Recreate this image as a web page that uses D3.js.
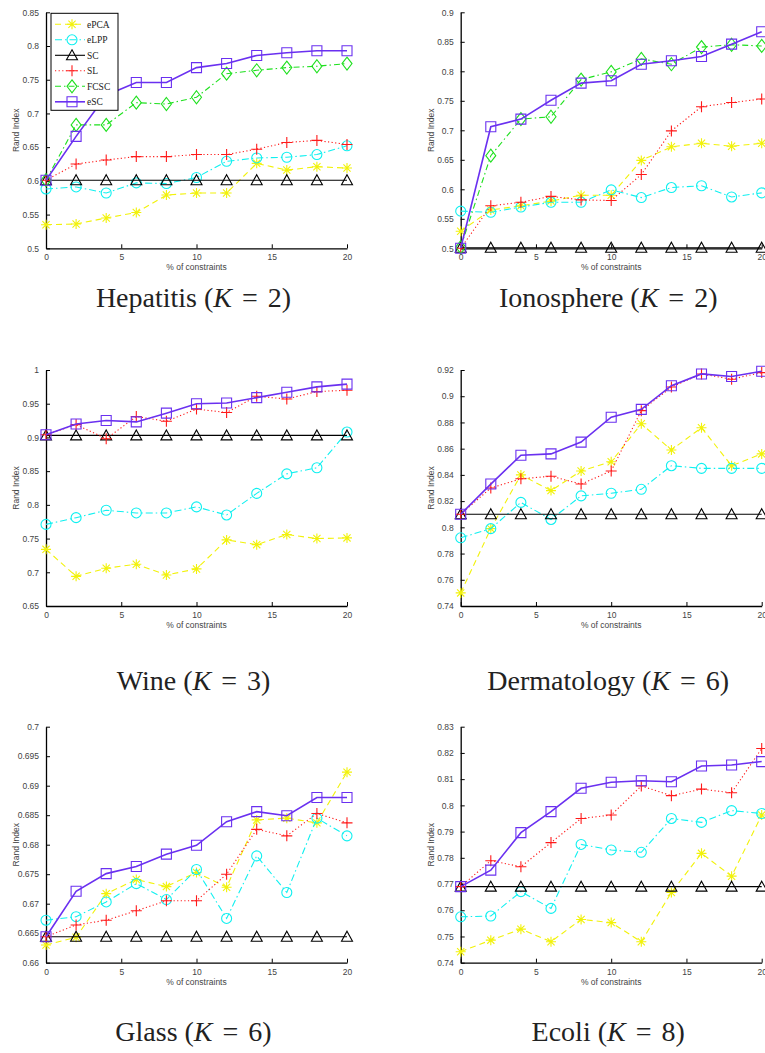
<!DOCTYPE html>
<html>
<head>
<meta charset="utf-8">
<script src="https://cdn.jsdelivr.net/npm/d3@7"></script>
<style>
  html, body { margin:0; padding:0; background:#fff; }
  svg { display:block; }
</style>
</head>
<body>
<div id="chart"></div>
<script>
/* Rand Index vs % of constraints, six datasets (3 x 2 small multiples).
   Values. */

// shared x values (% of constraints)
var pct = [0, 2, 4, 6, 8, 10, 12, 14, 16, 18, 20];
var xTicks = [0, 5, 10, 15, 20];

// method names, in legend order
var methods = ["ePCA", "eLPP", "SC", "SL", "FCSC", "eSC"];

// Hepatitis (K = 2)
var hepatitis_ePCA = [0.535, 0.536, 0.545, 0.553, 0.579, 0.582, 0.582, 0.626, 0.616, 0.621, 0.619];
var hepatitis_eLPP = [0.588, 0.591, 0.582, 0.597, 0.596, 0.605, 0.629, 0.634, 0.635, 0.639, 0.652];
var hepatitis_SC   = [0.601, 0.601, 0.601, 0.601, 0.601, 0.601, 0.601, 0.601, 0.601, 0.601, 0.601];
var hepatitis_SL   = [0.601, 0.625, 0.631, 0.636, 0.636, 0.639, 0.639, 0.647, 0.657, 0.660, 0.654];
var hepatitis_FCSC = [0.601, 0.683, 0.683, 0.716, 0.714, 0.724, 0.759, 0.764, 0.768, 0.770, 0.774];
var hepatitis_eSC  = [0.601, 0.666, 0.727, 0.746, 0.746, 0.768, 0.774, 0.786, 0.790, 0.793, 0.793];
var hepatitisTicks = [0.5, 0.55, 0.6, 0.65, 0.7, 0.75, 0.8, 0.85];

// Ionosphere (K = 2)
var ionosphere_ePCA = [0.529, 0.565, 0.572, 0.580, 0.590, 0.590, 0.649, 0.672, 0.678, 0.673, 0.678];
var ionosphere_eLPP = [0.563, 0.561, 0.570, 0.578, 0.578, 0.599, 0.586, 0.603, 0.606, 0.587, 0.594];
var ionosphere_SC   = [0.501, 0.501, 0.501, 0.501, 0.501, 0.501, 0.501, 0.501, 0.501, 0.501, 0.501];
var ionosphere_SL   = [0.500, 0.572, 0.578, 0.588, 0.582, 0.581, 0.625, 0.699, 0.740, 0.747, 0.753];
var ionosphere_FCSC = [0.502, 0.657, 0.719, 0.723, 0.786, 0.799, 0.821, 0.812, 0.841, 0.845, 0.843];
var ionosphere_eSC  = [0.500, 0.706, 0.719, 0.751, 0.780, 0.784, 0.812, 0.818, 0.825, 0.846, 0.867];
var ionosphereTicks = [0.5, 0.55, 0.6, 0.65, 0.7, 0.75, 0.8, 0.85, 0.9];

// Wine (K = 3)
var wine_ePCA = [0.734, 0.694, 0.706, 0.712, 0.696, 0.705, 0.748, 0.741, 0.756, 0.750, 0.751];
var wine_eLPP = [0.771, 0.781, 0.792, 0.788, 0.788, 0.797, 0.785, 0.817, 0.846, 0.855, 0.908];
var wine_SC   = [0.903, 0.903, 0.903, 0.903, 0.903, 0.903, 0.903, 0.903, 0.903, 0.903, 0.903];
var wine_SL   = [0.904, 0.919, 0.898, 0.931, 0.924, 0.942, 0.937, 0.961, 0.957, 0.968, 0.970];
var wine_eSC  = [0.904, 0.920, 0.925, 0.923, 0.936, 0.950, 0.951, 0.959, 0.967, 0.975, 0.979];
var wineTicks = [0.65, 0.7, 0.75, 0.8, 0.85, 0.9, 0.95, 1];

// Dermatology (K = 6)
var derm_ePCA = [0.750, 0.799, 0.840, 0.828, 0.843, 0.850, 0.879, 0.859, 0.876, 0.847, 0.856];
var derm_eLPP = [0.792, 0.799, 0.819, 0.806, 0.824, 0.826, 0.829, 0.847, 0.845, 0.845, 0.845];
var derm_SC   = [0.810, 0.810, 0.810, 0.810, 0.810, 0.810, 0.810, 0.810, 0.810, 0.810, 0.810];
var derm_SL   = [0.810, 0.830, 0.837, 0.839, 0.833, 0.843, 0.889, 0.907, 0.917, 0.913, 0.918];
var derm_eSC  = [0.810, 0.833, 0.855, 0.856, 0.865, 0.884, 0.890, 0.908, 0.917, 0.915, 0.919];
var dermTicks = [0.74, 0.76, 0.78, 0.8, 0.82, 0.84, 0.86, 0.88, 0.9, 0.92];

// Glass (K = 6)
var glass_ePCA = [0.6630, 0.6643, 0.6717, 0.6741, 0.6729, 0.6753, 0.6728, 0.6842, 0.6845, 0.6837, 0.6923];
var glass_eLPP = [0.6672, 0.6678, 0.6703, 0.6734, 0.6707, 0.6758, 0.6675, 0.6781, 0.6719, 0.6845, 0.6815];
var glass_SC   = [0.6644, 0.6644, 0.6644, 0.6644, 0.6644, 0.6644, 0.6644, 0.6644, 0.6644, 0.6644, 0.6644];
var glass_SL   = [0.6644, 0.6664, 0.6672, 0.6688, 0.6705, 0.6705, 0.6750, 0.6826, 0.6815, 0.6853, 0.6837];
var glass_eSC  = [0.6644, 0.6721, 0.6751, 0.6763, 0.6784, 0.6799, 0.6839, 0.6856, 0.6849, 0.6880, 0.6880];
var glassTicks = [0.66, 0.665, 0.67, 0.675, 0.68, 0.685, 0.69, 0.695, 0.7];

// Ecoli (K = 8)
var ecoli_ePCA = [0.7442, 0.7486, 0.7528, 0.7480, 0.7565, 0.7553, 0.7480, 0.7668, 0.7817, 0.7730, 0.7963];
var ecoli_eLPP = [0.7575, 0.7578, 0.7671, 0.7607, 0.7851, 0.7830, 0.7821, 0.7950, 0.7935, 0.7980, 0.7969];
var ecoli_SC   = [0.7690, 0.7690, 0.7690, 0.7690, 0.7690, 0.7690, 0.7690, 0.7690, 0.7690, 0.7690, 0.7690];
var ecoli_SL   = [0.7690, 0.7789, 0.7766, 0.7858, 0.7950, 0.7963, 0.8074, 0.8037, 0.8062, 0.8048, 0.8217];
var ecoli_eSC  = [0.7690, 0.7753, 0.7896, 0.7976, 0.8065, 0.8088, 0.8094, 0.8090, 0.8150, 0.8154, 0.8167];
var ecoliTicks = [0.74, 0.75, 0.76, 0.77, 0.78, 0.79, 0.8, 0.81, 0.82, 0.83];

// ---- styles per method (MATLAB-ish) ----
var STYLE = {
  ePCA: { color:"#f2f20a", dash:"6 4",     marker:"asterisk" },
  eLPP: { color:"#10f0f0", dash:"7 3 1.5 3", marker:"circle" },
  SC:   { color:"#000000", dash:null,      marker:"triangle" },
  SL:   { color:"#ff1a1a", dash:"1.2 2.4", marker:"plus" },
  FCSC: { color:"#1ee01e", dash:"6 3 1.5 3", marker:"diamond" },
  eSC:  { color:"#6a30f0", dash:null,      marker:"square" }
};

function markerPath(kind) {
  switch (kind) {
    case "asterisk": return "M-5,0H5M0,-5V5M-3.6,-3.6L3.6,3.6M-3.6,3.6L3.6,-3.6";
    case "circle":   return "M5,0A5,5 0 1,1 -5,0A5,5 0 1,1 5,0Z";
    case "triangle": return "M0,-5.5L5.5,4.5L-5.5,4.5Z";
    case "plus":     return "M-5.5,0H5.5M0,-5.5V5.5";
    case "diamond":  return "M0,-6.5L5,0L0,6.5L-5,0Z";
    case "square":   return "M-5,-5H5V5H-5Z";
  }
}

var W = 765, H = 1053;
var svg = d3.select("#chart").append("svg").attr("width", W).attr("height", H)
  .attr("viewBox", "0 0 " + W + " " + H);

var PW = 301, PH = 236;
var panels = [
  { title:"Hepatitis", K:2, x0:46,    y0:12.3,  dom:[0.5,0.85],  ticks:hepatitisTicks, legend:true,
    series:{ ePCA:hepatitis_ePCA, eLPP:hepatitis_eLPP, SC:hepatitis_SC, SL:hepatitis_SL, FCSC:hepatitis_FCSC, eSC:hepatitis_eSC } },
  { title:"Ionosphere", K:2, x0:460.7, y0:12.3, dom:[0.5,0.9],   ticks:ionosphereTicks,
    series:{ ePCA:ionosphere_ePCA, eLPP:ionosphere_eLPP, SC:ionosphere_SC, SL:ionosphere_SL, FCSC:ionosphere_FCSC, eSC:ionosphere_eSC } },
  { title:"Wine", K:3, x0:46,    y0:370,   dom:[0.65,1],    ticks:wineTicks,
    series:{ ePCA:wine_ePCA, eLPP:wine_eLPP, SC:wine_SC, SL:wine_SL, eSC:wine_eSC } },
  { title:"Dermatology", K:6, x0:460.7, y0:370, dom:[0.74,0.92], ticks:dermTicks,
    series:{ ePCA:derm_ePCA, eLPP:derm_eLPP, SC:derm_SC, SL:derm_SL, eSC:derm_eSC } },
  { title:"Glass", K:6, x0:46,    y0:726.7, dom:[0.66,0.7],  ticks:glassTicks,
    series:{ ePCA:glass_ePCA, eLPP:glass_eLPP, SC:glass_SC, SL:glass_SL, eSC:glass_eSC } },
  { title:"Ecoli", K:8, x0:460.7, y0:726.7, dom:[0.74,0.83], ticks:ecoliTicks,
    series:{ ePCA:ecoli_ePCA, eLPP:ecoli_eLPP, SC:ecoli_SC, SL:ecoli_SL, eSC:ecoli_eSC } }
];
var titleY = [307, 307, 690, 690, 1041, 1041];

var SANS = "Liberation Sans, Arial, sans-serif", SERIF = "Liberation Serif, Times New Roman, serif";

panels.forEach(function (P, pi) {
  var x = d3.scaleLinear().domain([0, 20]).range([0, PW]);
  var y = d3.scaleLinear().domain(P.dom).range([PH, 0]);
  var g = svg.append("g").attr("transform", "translate(" + P.x0 + "," + P.y0 + ")");

  // y axis (ticks inward)
  var ya = g.append("g").call(d3.axisLeft(y).tickValues(P.ticks).tickSizeInner(-4).tickSizeOuter(0)
      .tickPadding(7).tickFormat(function (d) { return String(+d.toFixed(4)); }));
  // x axis
  var xa = g.append("g").attr("transform", "translate(0," + PH + ")")
    .call(d3.axisBottom(x).tickValues(xTicks).tickSizeInner(-4).tickSizeOuter(0).tickPadding(6));
  [ya, xa].forEach(function (a) {
    a.select(".domain").attr("stroke", "#000").attr("stroke-width", 1.3);
    a.selectAll(".tick line").attr("stroke", "#000").attr("stroke-width", 1);
    a.selectAll(".tick text").attr("fill", "#444").attr("font-family", SANS).attr("font-size", 8.5);
  });

  g.append("text").attr("x", PW / 2).attr("y", PH + 22).attr("text-anchor", "middle")
    .attr("fill", "#444").attr("font-family", SANS).attr("font-size", 8.5).text("% of constraints");
  g.append("text").attr("transform", "rotate(-90)").attr("x", -PH / 2).attr("y", -27)
    .attr("text-anchor", "middle").attr("fill", "#444").attr("font-family", SANS)
    .attr("font-size", 8.5).text("Rand Index");

  var line = d3.line().x(function (d, i) { return x(pct[i]); }).y(function (d) { return y(d); });

  methods.forEach(function (m) {
    var vals = P.series[m];
    if (!vals) return;
    var st = STYLE[m];
    g.append("path").datum(vals).attr("d", line).attr("fill", "none")
      .attr("stroke", st.color).attr("stroke-width", m === "eSC" ? 1.6 : 1.1)
      .attr("stroke-dasharray", st.dash);
    vals.forEach(function (v, i) {
      g.append("path").attr("d", markerPath(st.marker))
        .attr("transform", "translate(" + x(pct[i]) + "," + y(v) + ")")
        .attr("fill", "none").attr("stroke", st.color).attr("stroke-width", 1.1);
    });
  });

  if (P.legend) {
    var lg = g.append("g").attr("transform", "translate(5,1)");
    lg.append("rect").attr("x", 0).attr("y", 0).attr("width", 67).attr("height", 97)
      .attr("fill", "#fff").attr("stroke", "#000").attr("stroke-width", 1);
    methods.forEach(function (m, i) {
      var st = STYLE[m], ry = 11 + i * 15.5;
      lg.append("line").attr("x1", 4).attr("x2", 34).attr("y1", ry).attr("y2", ry)
        .attr("stroke", st.color).attr("stroke-width", m === "eSC" ? 1.6 : 1.1)
        .attr("stroke-dasharray", st.dash);
      lg.append("path").attr("d", markerPath(st.marker)).attr("transform", "translate(21," + ry + ")")
        .attr("fill", "none").attr("stroke", st.color).attr("stroke-width", 1.1);
      lg.append("text").attr("x", 36).attr("y", ry + 3.5).attr("fill", "#222")
        .attr("font-family", SERIF).attr("font-size", 9.5).text(m);
    });
  }

  // caption below each panel
  var t = svg.append("text").attr("x", P.x0 + PW / 2 - 3).attr("y", titleY[pi]).attr("text-anchor", "middle")
    .attr("font-family", SERIF).attr("font-size", 28).attr("fill", "#222");
  t.append("tspan").text(P.title + " (");
  t.append("tspan").attr("font-style", "italic").text("K");
  t.append("tspan").attr("dx", 3).text(" = ");
  t.append("tspan").attr("dx", 3).text(P.K + ")");
});
</script>
</body>
</html>
